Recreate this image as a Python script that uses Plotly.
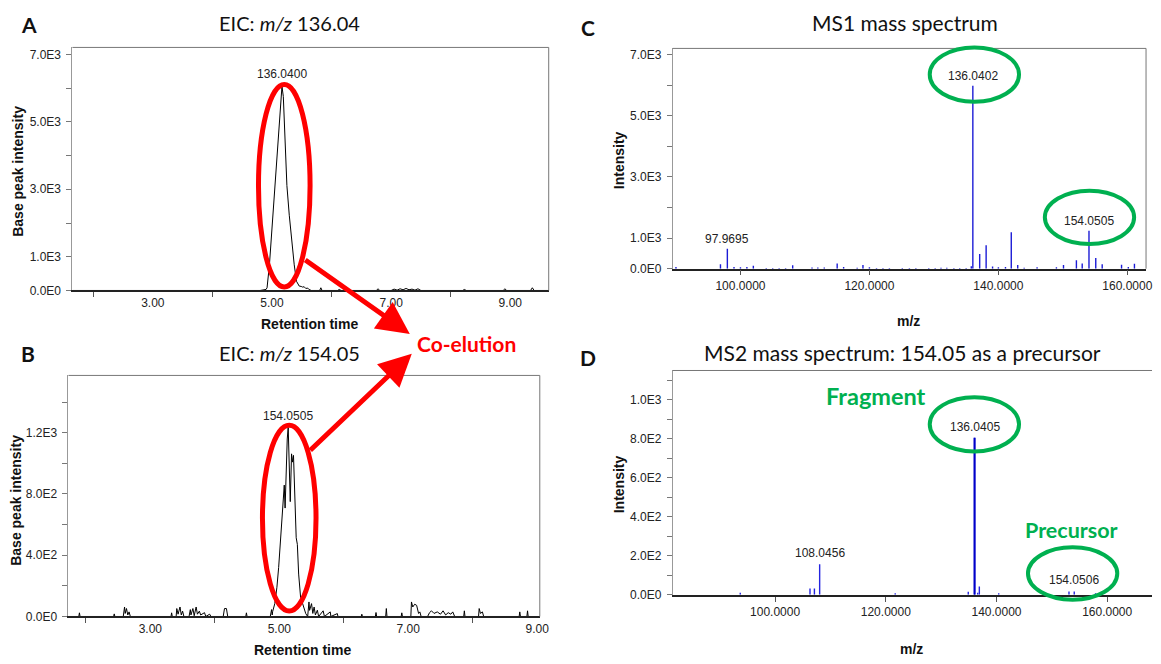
import plotly.graph_objects as go

W, H = 1161, 664

# ---------------- data ----------------
# Panel A: EIC m/z 136.04 (retention time, base peak intensity)
a_rt = [1.65, 2.30, 2.32, 2.34, 3.90, 3.92, 3.94, 4.60, 4.62, 4.64, 4.80, 4.90,
        4.917, 4.957, 4.995, 5.04, 5.083, 5.123, 5.15, 5.167, 5.19, 5.217, 5.25,
        5.29, 5.328, 5.373, 5.412, 5.457, 5.49, 5.512, 5.54, 5.567, 5.60, 5.62,
        5.66, 5.80, 5.82, 5.84, 6.10, 6.13, 6.16, 6.75, 6.78, 6.81, 7.00, 7.05,
        7.10, 7.15, 7.20, 7.25, 7.30, 7.35, 7.40, 7.45, 7.50, 8.20, 8.23, 8.26,
        8.88, 8.91, 8.94, 9.34, 9.37, 9.40, 9.645]
a_int = [0, 0, 20, 0, 0, 20, 0, 0, 20, 0, 0, 30,
         80, 760, 1740, 2910, 4180, 5160, 5650, 6050, 5750, 4480, 3110,
         2230, 1545, 760, 270, 130, 120, 100, 110, 60, 70, 30,
         0, 0, 80, 0, 0, 30, 0, 0, 50, 0, 0, 40,
         10, 50, 20, 60, 20, 40, 10, 50, 0, 0, 30, 0,
         0, 50, 0, 0, 80, 0, 0]

# Panel B: EIC m/z 154.05
b_rt = [1.73, 1.89, 1.90, 1.91, 2.43, 2.44, 2.45, 2.58, 2.60, 2.61, 2.63, 2.65, 2.67, 2.69,
        3.32, 3.33, 3.34, 3.40, 3.41, 3.43, 3.46, 3.48, 3.50, 3.52,
        3.60, 3.62, 3.63, 3.66, 3.68, 3.71, 3.73, 3.76, 3.78, 3.84, 3.86, 3.92, 3.94,
        4.13, 4.15, 4.18, 4.20, 4.48, 4.49, 4.50, 4.86, 4.88, 4.89,
        4.897, 4.93, 4.963, 4.99, 5.015, 5.04, 5.06, 5.077, 5.09, 5.108, 5.123, 5.138,
        5.154, 5.17, 5.19, 5.205, 5.22, 5.24, 5.262, 5.28, 5.30, 5.33, 5.374, 5.41,
        5.44, 5.46, 5.47, 5.50, 5.52, 5.54, 5.56, 5.59, 5.61, 5.68, 5.70, 5.79, 5.80, 5.90, 5.91,
        6.27, 6.28, 6.29, 6.49, 6.50, 6.51, 6.65, 6.66, 6.67, 6.89, 6.90, 6.91,
        7.04, 7.05, 7.07, 7.10, 7.13, 7.16, 7.18, 7.20,
        7.30, 7.33, 7.36, 7.40, 7.45, 7.50, 7.54, 7.58, 7.62, 7.66, 7.69, 7.72,
        7.86, 7.87, 7.88, 8.09, 8.10, 8.12, 8.15, 8.17,
        8.72, 8.73, 8.74, 8.84, 8.85, 8.86, 8.90]
b_int = [0, 0, 24, 0, 0, 17, 0, 0, 62, 20, 52, 10, 30, 0,
         0, 24, 0, 0, 52, 15, 62, 10, 35, 0,
         0, 45, 10, 52, 5, 62, 15, 35, 10, 25, 0, 15, 0,
         0, 52, 52, 0, 0, 24, 0, 0, 45, 10,
         32, 84, 191, 320, 492, 665, 772, 858, 708, 1030, 1159, 1234,
         858, 750, 1062, 1008, 1052, 815, 514, 471, 277, 127, 62, 19,
         0, 95, 40, 84, 20, 62, 10, 41, 0, 37, 0, 30, 0, 19, 0,
         0, 15, 0, 0, 26, 0, 0, 52, 0, 0, 24, 0,
         0, 95, 62, 80, 73, 20, 30, 0,
         0, 25, 37, 20, 30, 15, 37, 10, 25, 15, 30, 0,
         0, 37, 0, 0, 52, 20, 30, 0,
         0, 30, 0, 0, 37, 0, 0]

# Panel C: MS1 spectrum (m/z, intensity)
c_mz = [90.0, 96.9, 97.9695, 99.0, 100.0, 101.0, 102.0, 104.0, 105.0, 106.0, 107.0,
        108.1, 111.1, 112.0, 113.0, 115.0, 116.0, 118.1, 119.0, 120.0, 121.1, 122.1,
        123.1, 125.1, 126.2, 127.2, 129.2, 130.2, 131.1, 132.0, 133.1, 134.0, 135.0,
        135.8, 136.0402, 137.1, 138.1, 139.1, 140.0, 141.1, 142.0, 143.0, 144.0,
        146.0, 149.0, 150.1, 152.1, 153.0, 154.0505, 155.1, 156.1, 159.1, 160.15, 161.1]
c_int = [60, 150, 655, 60, 50, 60, 100, 20, 20, 20, 20,
         110, 40, 40, 40, 170, 60, 30, 120, 50, 20, 20,
         20, 20, 20, 20, 20, 20, 30, 30, 20, 20, 20,
         85, 5980, 480, 770, 75, 50, 60, 1190, 120, 30,
         50, 50, 120, 280, 170, 1245, 350, 150, 130, 60, 160]
c_labels = {97.9695: "97.9695", 136.0402: "136.0402", 154.0505: "154.0505"}

# Panel D: MS2 spectrum of 154.05
d_mz = [93.7, 106.3, 107.1, 108.0456, 121.7, 134.9, 136.0405, 136.6, 136.9, 140.4,
        153.1, 154.0506, 157.9]
d_int = [10, 32, 32, 157, 8, 15, 805, 10, 42, 8, 17, 17, 8]
d_labels = {108.0456: "108.0456", 136.0405: "136.0405", 154.0506: "154.0506"}

a_label = "136.0400"
b_label = "154.0505"

# ---------------- helpers ----------------
def X(px):
    return px / W

def Y(py):
    return 1 - py / H

def sticks(mz, inten):
    xs, ys = [], []
    for m, i in zip(mz, inten):
        xs += [m, m, None]
        ys += [0, i, None]
    return xs, ys

TICKFONT = dict(family="Liberation Sans, Arial", size=12, color="#222")
CAL = "Lato, Noto Sans, sans-serif"

fig = go.Figure()

# A
fig.add_trace(go.Scatter(x=a_rt, y=a_int, mode="lines", line=dict(color="black", width=1),
                         xaxis="x", yaxis="y", hoverinfo="skip"))
# B
fig.add_trace(go.Scatter(x=b_rt, y=b_int, mode="lines", line=dict(color="black", width=1),
                         xaxis="x2", yaxis="y2", hoverinfo="skip"))
# C
cx, cy = sticks(c_mz, c_int)
fig.add_trace(go.Scatter(x=cx, y=cy, mode="lines", line=dict(color="#1c1cd6", width=1.4),
                         xaxis="x3", yaxis="y3", hoverinfo="skip"))
# D
dx, dy = sticks(d_mz, d_int)
fig.add_trace(go.Scatter(x=dx, y=dy, mode="lines", line=dict(color="#2424e0", width=1.4),
                         xaxis="x4", yaxis="y4", hoverinfo="skip"))
imax = d_int.index(max(d_int))
fig.add_trace(go.Scatter(x=[d_mz[imax], d_mz[imax]], y=[0, d_int[imax]], mode="lines",
                         line=dict(color="#0000c8", width=2),
                         xaxis="x4", yaxis="y4", hoverinfo="skip"))

# ---------------- axes ----------------
def xax(dom, rng, tickvals, ticktext, minor_vals=None, anchor="y"):
    d = dict(domain=dom, range=rng, anchor=anchor, showgrid=False, zeroline=False,
             showline=True, linecolor="#222", linewidth=1.5,
             tickvals=tickvals, ticktext=ticktext, tickfont=TICKFONT,
             ticks="outside" if minor_vals is None else "", ticklen=5, tickcolor="#555")
    if minor_vals is not None:
        d["minor"] = dict(tickvals=minor_vals, ticks="outside", ticklen=5, tickcolor="#555")
    return d

def yax(dom, rng, tickvals, ticktext, anchor, standoff):
    return dict(domain=dom, range=rng, anchor=anchor, showgrid=False, zeroline=False,
                showline=True, linecolor="#999", linewidth=1,
                tickvals=tickvals, ticktext=ticktext, tickfont=TICKFONT,
                ticks="outside", ticklen=5, tickcolor="#777", ticklabelstandoff=standoff)

# pixel boxes (left, top, right, bottom)
boxA = (73, 47, 553, 293)
boxB = (69, 379, 544, 623)
boxC = (678, 48, 1155, 271)
boxD = (678, 374, 1161, 601)

def dom(box):
    l, t, r, b = box
    return [X(l), min(1, X(r))], [Y(b), Y(t)]

dAx, dAy = dom(boxA)
dBx, dBy = dom(boxB)
dCx, dCy = dom(boxC)
dDx, dDy = dom(boxD)

lab_rt = ["3.00", "5.00", "7.00", "9.00"]
lab_mz = ["100.0000", "120.0000", "140.0000", "160.0000"]

layout = dict(
    width=W, height=H, autosize=False,
    margin=dict(l=0, r=0, t=0, b=0),
    paper_bgcolor="white", plot_bgcolor="white", showlegend=False,
    xaxis=xax(dAx, [1.65, 9.645], [3, 5, 7, 9], lab_rt, [2, 4, 6, 8], "y"),
    yaxis=yax(dAy, [0, 7205], [0, 1000, 2000, 3000, 4000, 5000, 6000, 7000],
              ["0.0E0", "1.0E3", "", "3.0E3", "", "5.0E3", "", "7.0E3"], "x", 3),
    xaxis2=xax(dBx, [1.73, 9.04], [3, 5, 7, 9], lab_rt, [2, 4, 6, 8], "y2"),
    yaxis2=yax(dBy, [0, 1574], [0, 200, 400, 600, 800, 1000, 1200, 1400],
               ["0.0E0", "", "4.0E2", "", "8.0E2", "", "1.2E3", ""], "x2", 3),
    xaxis3=xax(dCx, [89.5, 162.9], [100, 120, 140, 160], lab_mz, None, "y3"),
    yaxis3=yax(dCy, [0, 7200], [0, 1000, 2000, 3000, 4000, 5000, 6000, 7000],
               ["0.0E0", "1.0E3", "", "3.0E3", "", "5.0E3", "", "7.0E3"], "x3", 3),
    xaxis4=xax(dDx, [81.5, 168.1], [100, 120, 140, 160], lab_mz, None, "y4"),
    yaxis4=yax(dDy, [0, 1150], [0, 100, 200, 300, 400, 500, 600, 700, 800, 900, 1000, 1100],
               ["0.0E0", "", "2.0E2", "", "4.0E2", "", "6.0E2", "", "8.0E2", "", "1.0E3", ""], "x4", 3),
)
fig.update_layout(**layout)

shapes = []
# top / right frame lines
for box, right in ((boxA, True), (boxB, True), (boxC, True), (boxD, False)):
    l, t, r, b = box
    shapes.append(dict(type="line", xref="paper", yref="paper", x0=X(l), x1=X(r), y0=Y(t), y1=Y(t),
                       line=dict(color="#777", width=1)))
    if right:
        shapes.append(dict(type="line", xref="paper", yref="paper", x0=X(r), x1=X(r), y0=Y(t), y1=Y(b),
                           line=dict(color="#777", width=1)))

def ellipse(x0, y0, x1, y1, color, w):
    return dict(type="circle", xref="paper", yref="paper", x0=X(x0), x1=X(x1), y0=Y(y1), y1=Y(y0),
                line=dict(color=color, width=w), fillcolor="rgba(0,0,0,0)", layer="above")

RED = "#ff0000"
GREEN = "#00b050"
shapes += [
    ellipse(260.5, 84.5, 312.5, 289.5, RED, 5),
    ellipse(264.5, 429.5, 318.5, 617.5, RED, 5),
    ellipse(937, 47, 1027, 102, GREEN, 4),
    ellipse(1053, 192, 1143, 246, GREEN, 4),
    ellipse(937, 401, 1027, 456, GREEN, 4),
    ellipse(1036, 553, 1126, 606, GREEN, 4),
]
fig.update_layout(shapes=shapes)

ann = []
def ptext(x, y, text, size, color="#111", family=CAL, bold=False, angle=0):
    t = f"<b>{text}</b>" if bold else text
    ann.append(dict(x=X(x), y=Y(y), xref="paper", yref="paper", text=t, showarrow=False,
                    xanchor="center", yanchor="middle", textangle=angle,
                    font=dict(family=family, size=size, color=color)))

# panel letters
ptext(29, 24, "A", 21, bold=True)
ptext(28, 357, "B", 21, bold=True)
ptext(593, 27, "C", 21, bold=True)
ptext(593, 361, "D", 21, bold=True)
# titles
ptext(292, 22, "EIC: <i>m/z</i> 136.04", 20)
ptext(292, 356, "EIC: <i>m/z</i> 154.05", 20)
ptext(912, 22, "MS1 mass spectrum", 21)
ptext(910, 356, "MS2 mass spectrum: 154.05 as a precursor", 21)
# axis titles
AF = "Liberation Sans, Arial"
ptext(312, 327, "Retention time", 14, family=AF, bold=True)
ptext(305, 657, "Retention time", 14, family=AF, bold=True)
ptext(916, 324, "m/z", 14, family=AF, bold=True)
ptext(919, 656, "m/z", 14, family=AF, bold=True)
ptext(18, 172, "Base peak intensity", 14, family=AF, bold=True, angle=-90)
ptext(16, 505, "Base peak intensity", 14, family=AF, bold=True, angle=-90)
ptext(624, 161, "Intensity", 14, family=AF, bold=True, angle=-90)
ptext(624, 489, "Intensity", 14, family=AF, bold=True, angle=-90)
# callouts
ptext(470, 347, "Co-elution", 21, color=RED, bold=True)
ptext(883, 400, "Fragment", 23.5, color=GREEN, bold=True)
ptext(1080, 535, "Precursor", 21.5, color=GREEN, bold=True)

# peak labels in data coordinates
LBL = dict(family="Liberation Sans, Arial", size=12, color="#222")
ia = a_int.index(max(a_int))
ann.append(dict(x=a_rt[ia], y=a_int[ia], xref="x", yref="y", text=a_label, showarrow=False,
                yanchor="middle", yshift=12, font=LBL))
ib = b_int.index(max(b_int))
ann.append(dict(x=b_rt[ib], y=b_int[ib], xref="x2", yref="y2", text=b_label, showarrow=False,
                yanchor="middle", yshift=12, font=LBL))
for m, t in c_labels.items():
    ann.append(dict(x=m, y=c_int[c_mz.index(m)], xref="x3", yref="y3", text=t, showarrow=False,
                    yanchor="middle", yshift=10, font=LBL))
for m, t in d_labels.items():
    ann.append(dict(x=m, y=d_int[d_mz.index(m)], xref="x4", yref="y4", text=t, showarrow=False,
                    yanchor="middle", yshift=11, font=LBL))

# arrows to "Co-elution"
ann.append(dict(x=X(413), y=Y(337), xref="paper", yref="paper", ax=-106, ay=-75, text="",
                showarrow=True, arrowhead=2, arrowsize=1.3, arrowwidth=5, arrowcolor=RED, standoff=0))
ann.append(dict(x=X(415), y=Y(357), xref="paper", yref="paper", ax=-103, ay=98, text="",
                showarrow=True, arrowhead=2, arrowsize=1.3, arrowwidth=5, arrowcolor=RED, standoff=0))

fig.update_layout(annotations=ann)

fig.write_html("out.html", config={"displayModeBar": False},
               post_script="document.body.style.margin='0';")
